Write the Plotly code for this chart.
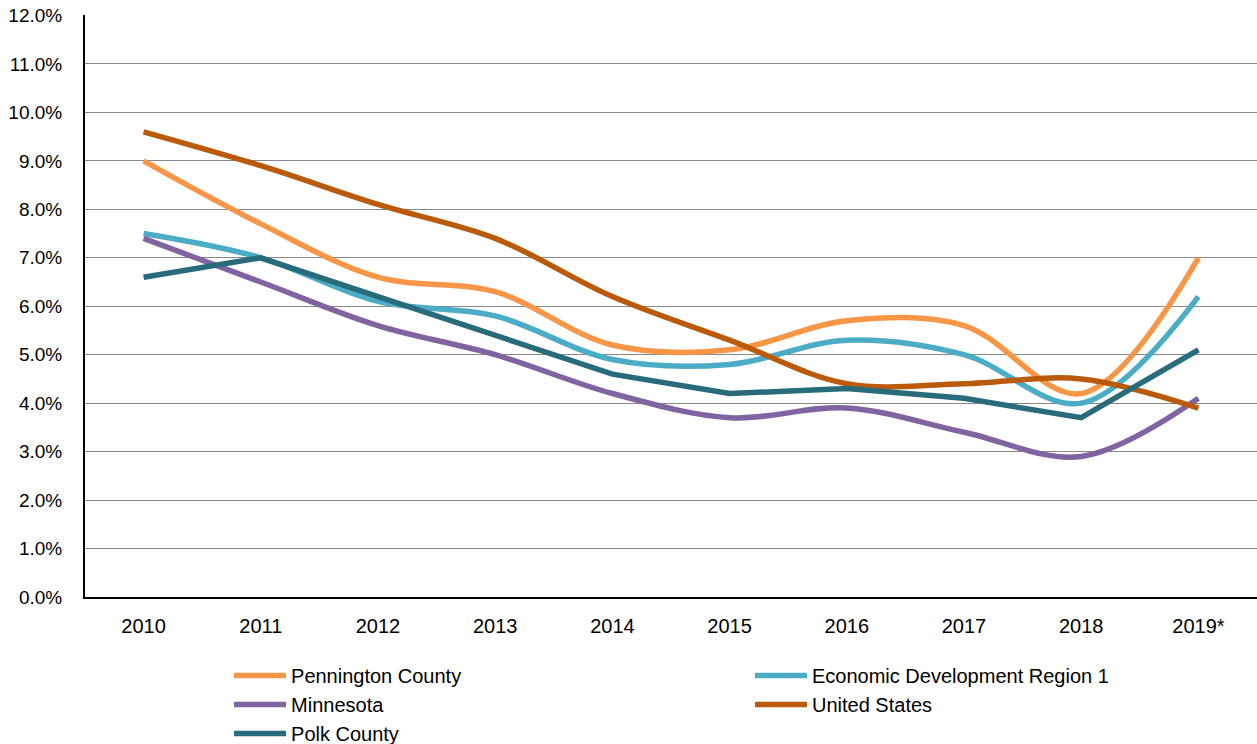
import plotly.graph_objects as go

years = ["2010", "2011", "2012", "2013", "2014", "2015", "2016", "2017", "2018", "2019*"]
pennington = [9.0, 7.7, 6.6, 6.3, 5.2, 5.1, 5.7, 5.6, 4.2, 7.0]
edr1 = [7.5, 7.0, 6.1, 5.8, 4.9, 4.8, 5.3, 5.0, 4.0, 6.2]
minnesota = [7.4, 6.5, 5.6, 5.0, 4.2, 3.7, 3.9, 3.4, 2.9, 4.1]
united_states = [9.6, 8.9, 8.1, 7.4, 6.2, 5.3, 4.4, 4.4, 4.5, 3.9]
polk = [6.6, 7.0, 6.2, 5.4, 4.6, 4.2, 4.3, 4.1, 3.7, 5.1]
y_ticks = [0, 1, 2, 3, 4, 5, 6, 7, 8, 9, 10, 11, 12]

series = [
    ("Pennington County", pennington, "#F79646", "spline", "legend"),
    ("Economic Development Region 1", edr1, "#4BACC6", "spline", "legend2"),
    ("Minnesota", minnesota, "#8064A2", "spline", "legend"),
    ("United States", united_states, "#BA5A0B", "spline", "legend2"),
    ("Polk County", polk, "#286B7B", "linear", "legend"),
]

fig = go.Figure()
for name, vals, color, shape, leg in series:
    fig.add_trace(go.Scatter(
        x=years, y=vals, name=name, mode="lines", legend=leg,
        line=dict(color=color, width=5.5, shape=shape, smoothing=1.0),
    ))

font_family = "Liberation Sans, Arial, sans-serif"
legend_common = dict(
    orientation="v", xanchor="left", yanchor="top", y=-0.1014,
    itemwidth=52, font=dict(size=20, color="#000000"),
    traceorder="normal", bgcolor="rgba(0,0,0,0)",
)
fig.update_layout(
    width=1257, height=744,
    margin=dict(l=85, r=0, t=15, b=147, autoexpand=False),
    paper_bgcolor="white", plot_bgcolor="white",
    font=dict(family=font_family, size=19, color="#000000"),
    showlegend=True,
    legend=dict(x=0.1229, **legend_common),
    legend2=dict(x=0.5674, **legend_common),
    xaxis=dict(
        type="category", range=[-0.5, 9.5],
        showline=True, linecolor="#000000", linewidth=2,
        showgrid=False, ticks="", ticklabelstandoff=10,
        tickfont=dict(size=20, color="#000000"),
    ),
    yaxis=dict(
        range=[0, 12.01], tickvals=y_ticks,
        ticktext=[f"{v:.1f}%" for v in y_ticks],
        showline=True, linecolor="#000000", linewidth=2,
        showgrid=True, gridcolor="#888888", gridwidth=1.3,
        zeroline=False, ticks="", ticklabelstandoff=17,
        ticklabeloverflow="allow",
        tickfont=dict(size=19, color="#000000"),
    ),
)

fig.write_html(
    "out.html",
    config={"displayModeBar": False},
    post_script="document.body.style.margin='0';document.body.style.overflow='hidden';",
)
